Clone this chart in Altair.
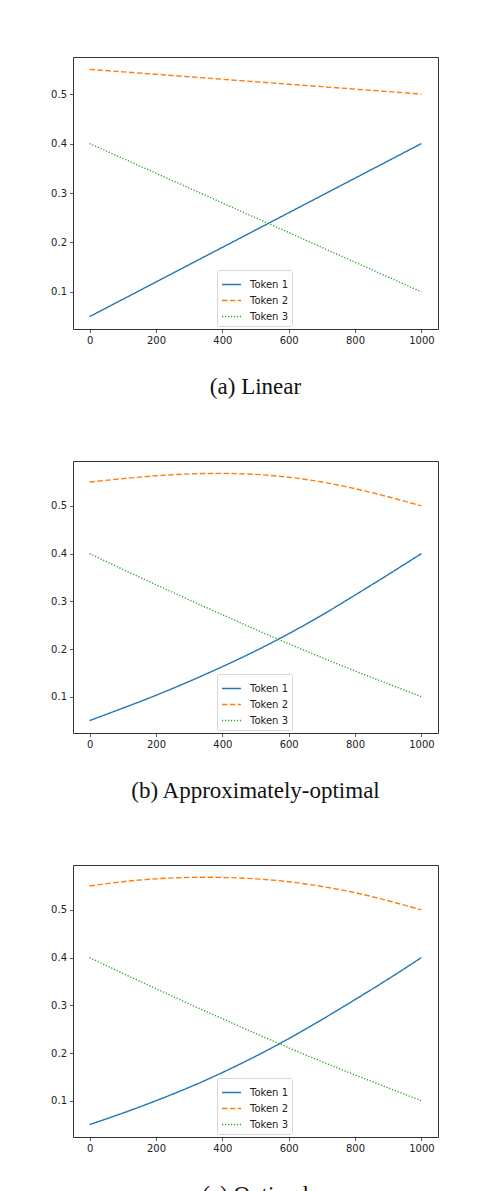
import altair as alt
import pandas as pd

steps = [0, 100, 200, 300, 400, 500, 600, 700, 800, 900, 1000]
tokens = ["Token 1", "Token 2", "Token 3"]

a_t1 = [0.05, 0.085, 0.12, 0.155, 0.19, 0.225, 0.26, 0.295, 0.33, 0.365, 0.40]
a_t2 = [0.55, 0.545, 0.54, 0.535, 0.53, 0.525, 0.52, 0.515, 0.51, 0.505, 0.50]
a_t3 = [0.40, 0.37, 0.34, 0.31, 0.28, 0.25, 0.22, 0.19, 0.16, 0.13, 0.10]

b_t1 = [0.05, 0.076, 0.103, 0.132, 0.163, 0.196, 0.232, 0.271, 0.313, 0.356, 0.40]
b_t2 = [0.55, 0.557, 0.563, 0.567, 0.568, 0.566, 0.560, 0.550, 0.536, 0.519, 0.50]
b_t3 = [0.40, 0.367, 0.335, 0.303, 0.272, 0.241, 0.211, 0.182, 0.154, 0.127, 0.10]

c_t1 = [0.05, 0.074, 0.100, 0.128, 0.159, 0.193, 0.230, 0.270, 0.312, 0.355, 0.40]
c_t2 = [0.55, 0.559, 0.565, 0.568, 0.568, 0.565, 0.559, 0.549, 0.536, 0.519, 0.50]
c_t3 = [0.40, 0.367, 0.335, 0.303, 0.272, 0.241, 0.211, 0.182, 0.154, 0.127, 0.10]

captions = ["(a) Linear", "(b) Approximately-optimal", "(c) Optimal"]
y_domains = [[0.025, 0.575], [0.024, 0.594], [0.024, 0.594]]

colors = ["#1f77b4", "#ff7f0e", "#2ca02c"]
dashes = [[1, 0], [5.5, 2.4], [1.2, 1.8]]


def make_df(series):
    rows = []
    for tok, vals in zip(tokens, series):
        for s, v in zip(steps, vals):
            rows.append({"step": s, "p": v, "token": tok})
    return pd.DataFrame(rows)


def panel(series, caption, ydom):
    df = make_df(series)
    return alt.Chart(df).mark_line(strokeWidth=1.4, interpolate="natural").encode(
        x=alt.X("step:Q", scale=alt.Scale(domain=[-50, 1050], nice=False, zero=False),
                axis=alt.Axis(values=[0, 200, 400, 600, 800, 1000], format="d", title=None)),
        y=alt.Y("p:Q", scale=alt.Scale(domain=ydom, nice=False, zero=False),
                axis=alt.Axis(values=[0.1, 0.2, 0.3, 0.4, 0.5], format=".1f", title=None)),
        color=alt.Color("token:N", scale=alt.Scale(domain=tokens, range=colors),
                        legend=alt.Legend(title=None, orient="none", legendX=144, legendY=213,
                                          symbolType="stroke", symbolSize=360, symbolStrokeWidth=1.5,
                                          labelFontSize=10, labelFont="DejaVu Sans", labelColor="#222",
                                          padding=4, rowPadding=0, strokeColor="#d6d6d6",
                                          fillColor="white", cornerRadius=2, labelOffset=8)),
        strokeDash=alt.StrokeDash("token:N", scale=alt.Scale(domain=tokens, range=dashes)),
    ).properties(
        width=365, height=272,
        title=alt.TitleParams(caption, orient="bottom", font="Liberation Serif", fontSize=23,
                              fontWeight="normal", color="#111", offset=30),
    )


chart = alt.vconcat(
    panel([a_t1, a_t2, a_t3], captions[0], y_domains[0]),
    panel([b_t1, b_t2, b_t3], captions[1], y_domains[1]),
    panel([c_t1, c_t2, c_t3], captions[2], y_domains[2]),
    spacing=61,
).resolve_legend(color="independent", strokeDash="independent").resolve_scale(
    color="independent", strokeDash="independent", y="independent"
).properties(
    padding={"left": 42, "top": 48, "right": 5, "bottom": 5}
).configure_view(
    stroke="#333", strokeWidth=1
).configure_axis(
    grid=False, domain=False, tickColor="#333", tickSize=3.5, tickWidth=0.8,
    labelFont="DejaVu Sans", labelFontSize=10, labelColor="#222", labelPadding=3,
)

chart.save("out.html", embed_options={"renderer": "svg", "actions": False})
